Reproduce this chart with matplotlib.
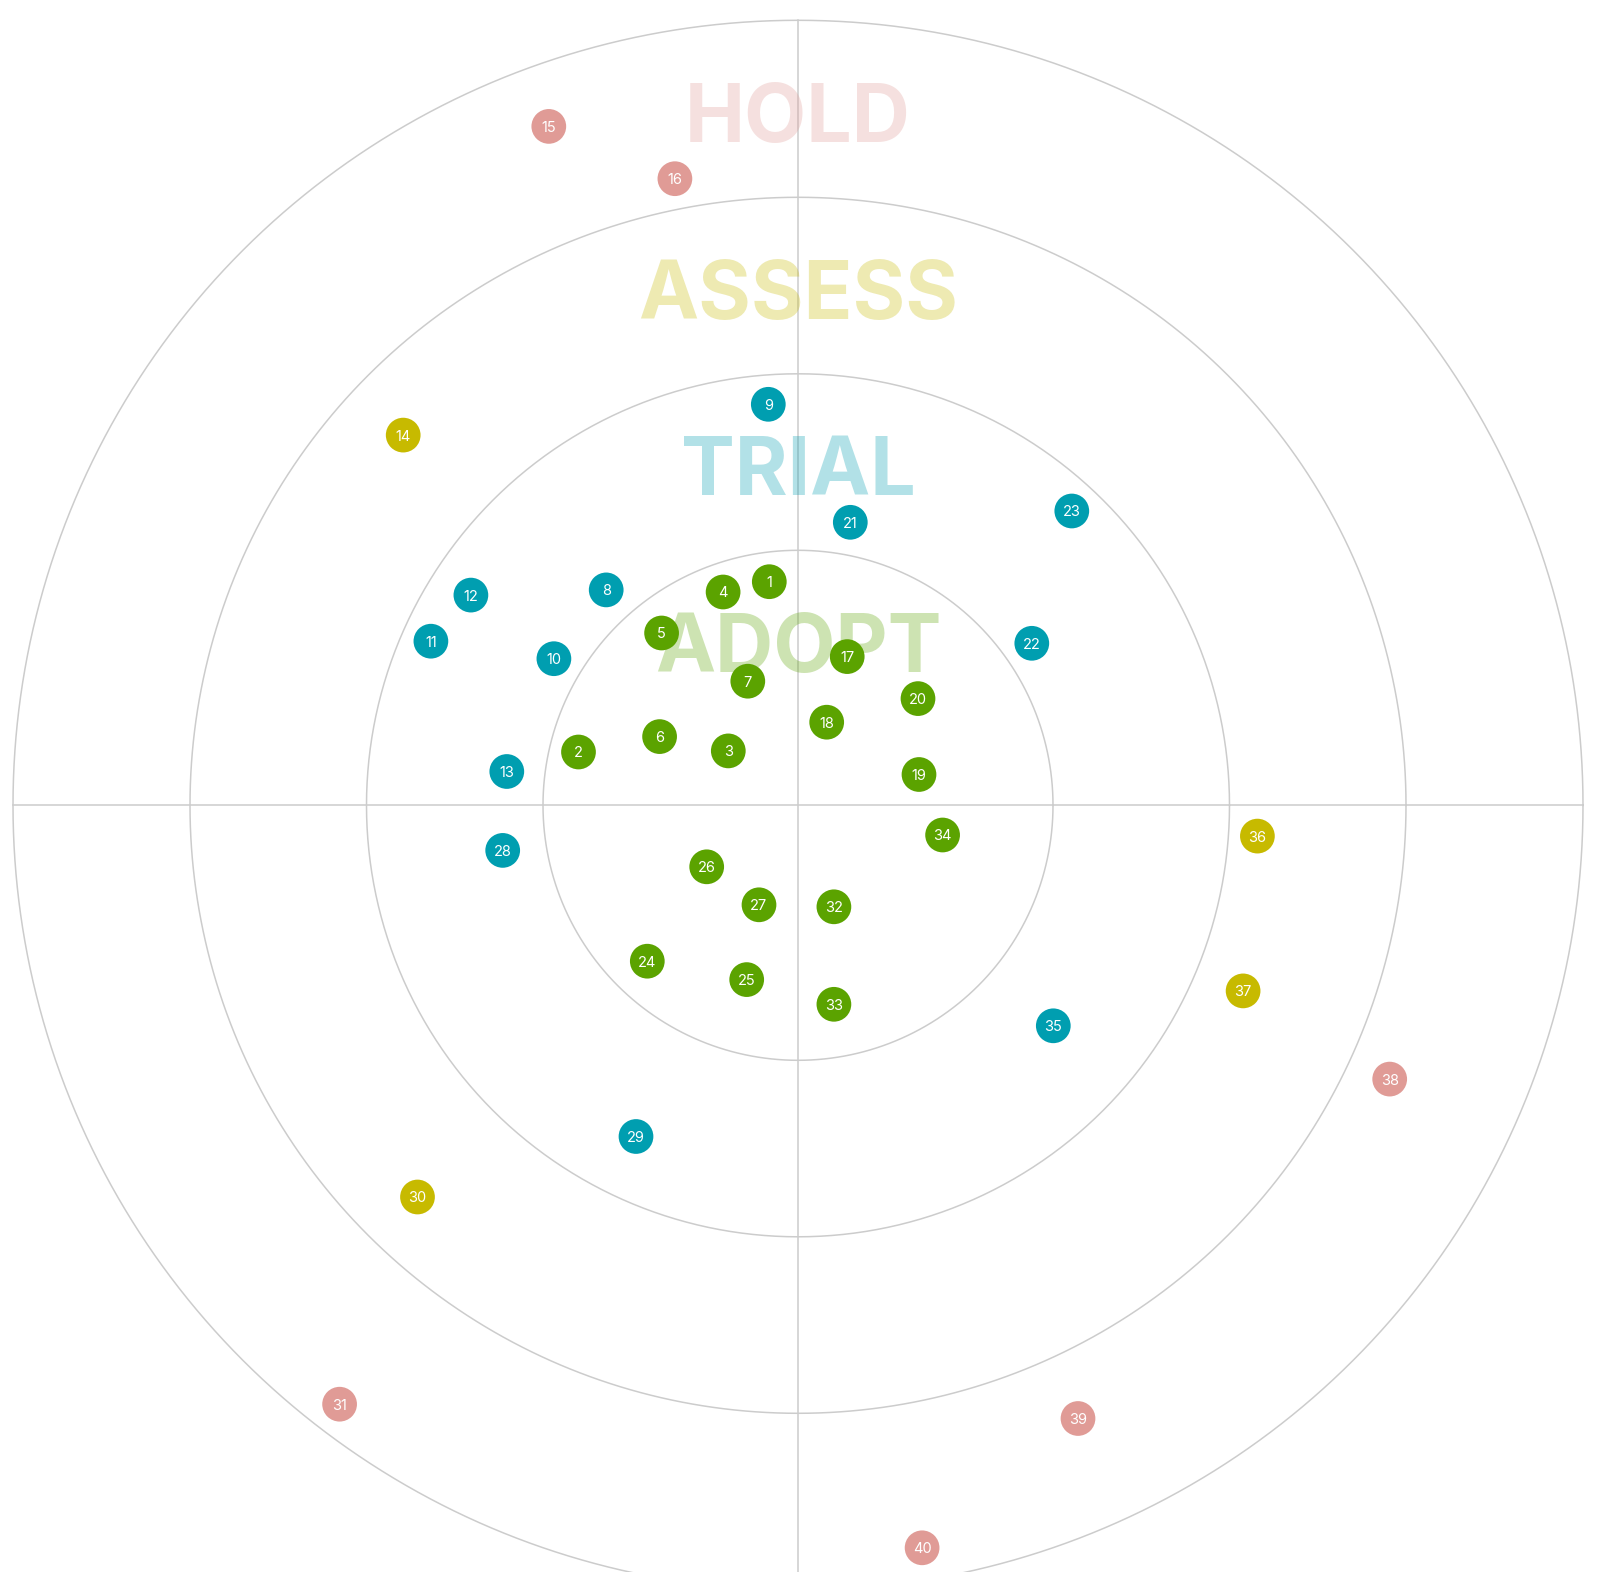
import matplotlib
matplotlib.use("Agg")
from matplotlib import pyplot as plt
import numpy as np

plt.rcParams['font.family'] = ['Inter', 'DejaVu Sans']

# ring names and outer radius of each ring (chart units, outer ring = 785)
rings = ['ADOPT', 'TRIAL', 'ASSESS', 'HOLD']
ring_radius = [255, 431.5, 608, 785]
ring_color = ['#5ba300', '#009eb0', '#c7ba00', '#e09b96']

# blips: number, x, y (relative to radar centre, y up), ring index
blip_id = list(range(1, 41))
blip_x = [-28.7, -219.5, -69.7, -74.9, -136.4, -138.4, -50.2, -191.8, -29.7, -244.1,
          -367.1, -327.1, -291.2, -394.8, -249.2, -123.1, 49.2, 28.7, 121.0, 120.0,
          52.3, 233.8, 273.8, -150.7, -51.3, -91.3, -39.0, -295.3, -162.0, -380.5,
          -458.4, 35.9, 35.9, 144.6, 255.3, 459.4, 445.1, 591.7, 280.0, 124.1]
blip_y = [223.6, 53.3, 54.4, 213.3, 172.3, 68.7, 124.1, 215.4, 401.0, 146.6,
          164.1, 210.2, 33.8, 370.2, 678.9, 626.6, 148.7, 83.1, 30.8, 106.7,
          283.0, 162.0, 294.3, -155.9, -174.3, -61.5, -99.5, -45.1, -331.2, -391.7,
          -598.9, -101.5, -199.0, -29.7, -220.5, -30.8, -185.6, -273.8, -613.2, -742.5]
blip_ring = [0, 0, 0, 0, 0, 0, 0, 1, 1, 1,
             1, 1, 1, 2, 3, 3, 0, 0, 0, 0,
             1, 1, 1, 0, 0, 0, 0, 1, 1, 2,
             3, 0, 0, 0, 1, 2, 2, 3, 3, 3]

W, H = 1608, 1572
cx, cy = 798, 805.3  # centre in pixels from top-left

fig = plt.figure(figsize=(W / 100, H / 100), dpi=100)
ax = fig.add_axes([0, 0, 1, 1])
ax.set_xlim(-cx, W - cx)
ax.set_ylim(-(H - cy), cy)
ax.set_aspect('equal')
ax.axis('off')

grid_col = '#cccccc'
t = np.linspace(0, 2 * np.pi, 721)
for r in ring_radius:
    ax.plot(r * np.cos(t), r * np.sin(t), color=grid_col, lw=1.1, zorder=1)
R = ring_radius[-1]
ax.plot([-R, R], [0, 0], color=grid_col, lw=1.1, zorder=1)
ax.plot([0, 0], [-R, R], color=grid_col, lw=1.1, zorder=1)

# ring names
for name, r, c in zip(rings, ring_radius, ring_color):
    ax.text(0, r - 92, name, ha='center', va='center_baseline', fontsize=58, fontweight='bold',
            color=c, alpha=0.3, zorder=2)

# blips
cols = [ring_color[i] for i in blip_ring]
ax.scatter(blip_x, blip_y, s=625, c=cols, linewidths=0, zorder=3)
for n, x, y in zip(blip_id, blip_x, blip_y):
    ax.text(x, y, str(n), ha='center', va='center_baseline', fontsize=10.5,
            color='white', zorder=4)

fig.savefig('out.png', dpi=100, facecolor='white')
